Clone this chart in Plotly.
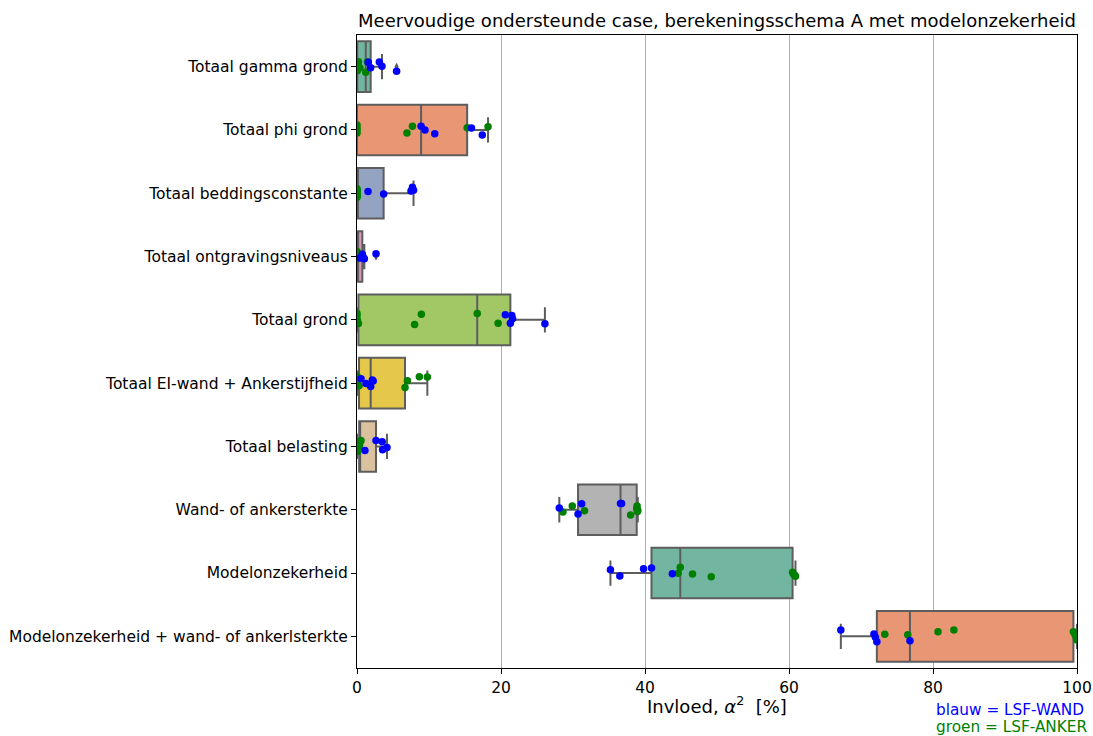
import colorsys
import numpy as np
import plotly.graph_objects as go

# Categories, top to bottom
categories = [
    "Totaal gamma grond",
    "Totaal phi grond",
    "Totaal beddingsconstante",
    "Totaal ontgravingsniveaus",
    "Totaal grond",
    "Totaal EI-wand + Ankerstijfheid",
    "Totaal belasting",
    "Wand- of ankersterkte",
    "Modelonzekerheid",
    "Modelonzekerheid + wand- of ankerlsterkte",
]

# Influence alpha^2 [%] per category, LSF-WAND (blue)
wand_values = [
    [1.57, 1.9, 3.1, 3.47, 5.5],
    [8.9, 9.44, 10.8, 15.9, 17.4],
    [1.53, 3.7, 7.5, 7.7, 7.85],
    [0.42, 0.74, 0.9, 1.02, 2.64],
    [20.6, 21.3, 21.5, 21.6, 26.1],
    [0.56, 1.25, 1.9, 2.13, 2.25],
    [1.1, 2.64, 3.5, 3.55, 4.17],
    [28.1, 30.7, 31.2, 36.6, 36.75],
    [35.2, 36.5, 39.8, 40.9, 43.8],
    [67.2, 71.8, 72.0, 72.2, 76.8],
]

# Influence alpha^2 [%] per category, LSF-ANKER (green)
anker_values = [
    [0.0, 0.0, 0.02, 0.04, 0.2, 0.4, 1.22, 1.45],
    [0.0, 0.0, 0.0, 0.0, 6.94, 7.7, 15.3, 18.2],
    [0.0, 0.0, 0.0, 0.0, 0.0, 0.0, 0.0, 0.0],
    [0.0, 0.0, 0.0, 0.02, 0.03, 0.05, 0.08, 0.1],
    [0.0, 0.0, 0.05, 0.2, 8.0, 8.94, 16.7, 19.6],
    [0.0, 0.0, 0.05, 0.28, 6.67, 7.0, 8.66, 9.77],
    [0.0, 0.05, 0.1, 0.3, 0.33, 0.36, 0.4, 0.55],
    [28.6, 29.9, 31.6, 38.0, 38.85, 38.9, 38.95, 39.0],
    [44.6, 44.9, 46.6, 49.2, 60.5, 60.6, 60.8, 60.9],
    [73.3, 76.5, 80.7, 82.9, 99.5, 99.7, 99.9, 100.0],
]

# Strip-plot jitter (category units) of each point
wand_jitter = [
    [-0.068, 0.016, -0.074, -0.005, 0.074],
    [-0.059, 0.0, 0.059, -0.032, 0.079],
    [-0.027, 0.011, -0.036, -0.095, -0.048],
    [0.021, -0.036, 0.016, 0.036, -0.043],
    [-0.079, 0.052, -0.068, -0.016, 0.063],
    [-0.068, 0.005, 0.052, -0.048, -0.032],
    [0.063, -0.095, -0.074, 0.052, 0.016],
    [-0.027, 0.068, -0.095, -0.1, -0.1],
    [-0.052, 0.048, -0.068, -0.079, 0.011],
    [-0.1, -0.036, 0.016, 0.085, 0.07],
]
anker_jitter = [
    [-0.048, 0.032, -0.016, 0.063, -0.079, 0.016, 0.09, -0.079],
    [-0.079, -0.032, 0.0, 0.048, 0.048, -0.059, -0.036, -0.052],
    [-0.071, -0.051, -0.032, -0.013, 0.008, 0.029, 0.048, 0.063],
    [-0.079, -0.063, -0.048, -0.032, -0.016, 0.0, 0.016, 0.032],
    [-0.1, -0.059, 0.008, 0.059, 0.074, -0.09, -0.1, 0.052],
    [-0.063, 0.0, -0.1, 0.043, 0.068, -0.036, -0.1, -0.098],
    [0.055, 0.079, 0.032, 0.008, -0.016, -0.04, -0.063, -0.095],
    [0.036, -0.059, 0.016, 0.084, -0.016, -0.059, 0.027, 0.008],
    [0.005, -0.09, 0.016, 0.059, -0.011, 0.011, 0.036, 0.052],
    [-0.032, -0.025, -0.073, -0.1, -0.073, -0.032, 0.016, 0.059],
]

x_ticks = [0, 20, 40, 60, 80, 100]

# Set2 palette, desaturated like seaborn's boxplot
set2 = ["#66c2a5", "#fc8d62", "#8da0cb", "#e78ac3", "#a6d854",
        "#ffd92f", "#e5c494", "#b3b3b3"]


def desaturate(hex_color, prop=0.75):
    r, g, b = (int(hex_color[i:i + 2], 16) / 255 for i in (1, 3, 5))
    h, l, s = colorsys.rgb_to_hls(r, g, b)
    r, g, b = colorsys.hls_to_rgb(h, l, s * prop)
    return "#%02x%02x%02x" % (round(r * 255), round(g * 255), round(b * 255))


box_colors = [desaturate(set2[i % len(set2)]) for i in range(len(categories))]
edge_gray = "#5d5d5d"
FONT = "DejaVu Sans"

fig = go.Figure()

# Box statistics (matplotlib convention: linear percentiles, 1.5 IQR whiskers)
flier_x, flier_y = [], []
for i, cat in enumerate(categories):
    data = np.array(wand_values[i] + anker_values[i])
    q1, med, q3 = np.percentile(data, [25, 50, 75])
    iqr = q3 - q1
    lo = data[data >= q1 - 1.5 * iqr].min()
    hi = data[data <= q3 + 1.5 * iqr].max()
    for v in data:
        if v < lo or v > hi:
            flier_x.append(v)
            flier_y.append(i)
    fig.add_trace(go.Box(
        y=[i], q1=[q1], median=[med], q3=[q3],
        lowerfence=[lo], upperfence=[hi],
        orientation="h", width=0.8, whiskerwidth=0.5,
        fillcolor=box_colors[i],
        line=dict(color=edge_gray, width=2),
        boxpoints=False, showlegend=False, hoverinfo="skip",
    ))

fig.add_trace(go.Scatter(
    x=flier_x, y=flier_y, mode="markers",
    marker=dict(symbol="diamond-tall", size=6, color=edge_gray),
    showlegend=False, hoverinfo="skip",
))

# Strip points: LSF-ANKER in green, LSF-WAND in blue on top
ax, ay, bx, by = [], [], [], []
for i in range(len(categories)):
    for v, j in zip(anker_values[i], anker_jitter[i]):
        ax.append(v)
        ay.append(i + j)
    for v, j in zip(wand_values[i], wand_jitter[i]):
        bx.append(v)
        by.append(i + j)

fig.add_trace(go.Scatter(x=ax, y=ay, mode="markers",
                         marker=dict(size=7.5, color="green", line=dict(width=0)),
                         showlegend=False, hoverinfo="skip"))
fig.add_trace(go.Scatter(x=bx, y=by, mode="markers",
                         marker=dict(size=7.5, color="blue", line=dict(width=0)),
                         showlegend=False, hoverinfo="skip"))

fig.update_layout(
    width=1093, height=736,
    margin=dict(l=357, r=16, t=35, b=68, autoexpand=False),
    paper_bgcolor="white", plot_bgcolor="white",
    font=dict(family=FONT, size=15.5, color="black"),
    title=dict(
        text="Meervoudige ondersteunde case, berekeningsschema A met modelonzekerheid",
        x=0.5, xref="paper", xanchor="center",
        y=1 - 21 / 736, yref="container", yanchor="middle",
        font=dict(family=FONT, size=18, color="black"),
    ),
    xaxis=dict(
        range=[0, 100], tickvals=x_ticks, ticktext=[str(t) for t in x_ticks],
        automargin=False,
        showgrid=True, gridcolor="#b0b0b0", gridwidth=1,
        zeroline=False, showline=True, mirror=True,
        linecolor="black", linewidth=1.2,
        ticks="outside", ticklen=5, tickwidth=1.2, tickcolor="black",
        tickfont=dict(family=FONT, size=15.5),
    ),
    yaxis=dict(
        range=[len(categories) - 0.5, -0.5],
        tickvals=list(range(len(categories))), ticktext=categories,
        automargin=False,
        showgrid=False, zeroline=False, showline=True, mirror=True,
        linecolor="black", linewidth=1.2,
        ticks="outside", ticklen=5, tickwidth=1.2, tickcolor="black",
        tickfont=dict(family=FONT, size=15.5),
    ),
    annotations=[
        dict(text="Invloed, <i>α</i><sup>2</sup>\u00a0\u00a0[%]", x=0.5, y=-0.0585,
             xref="paper", yref="paper", xanchor="center", yanchor="middle",
             showarrow=False, font=dict(family=FONT, size=18, color="black")),
        dict(text="blauw = LSF-WAND", x=(934 - 357) / 720, y=-0.066,
             xref="paper", yref="paper", xanchor="left", yanchor="middle",
             showarrow=False, font=dict(family=FONT, size=15.3, color="blue")),
        dict(text="groen = LSF-ANKER", x=(934 - 357) / 720, y=-0.093,
             xref="paper", yref="paper", xanchor="left", yanchor="middle",
             showarrow=False, font=dict(family=FONT, size=15.3, color="green")),
    ],
)

fig.write_html("out.html")
